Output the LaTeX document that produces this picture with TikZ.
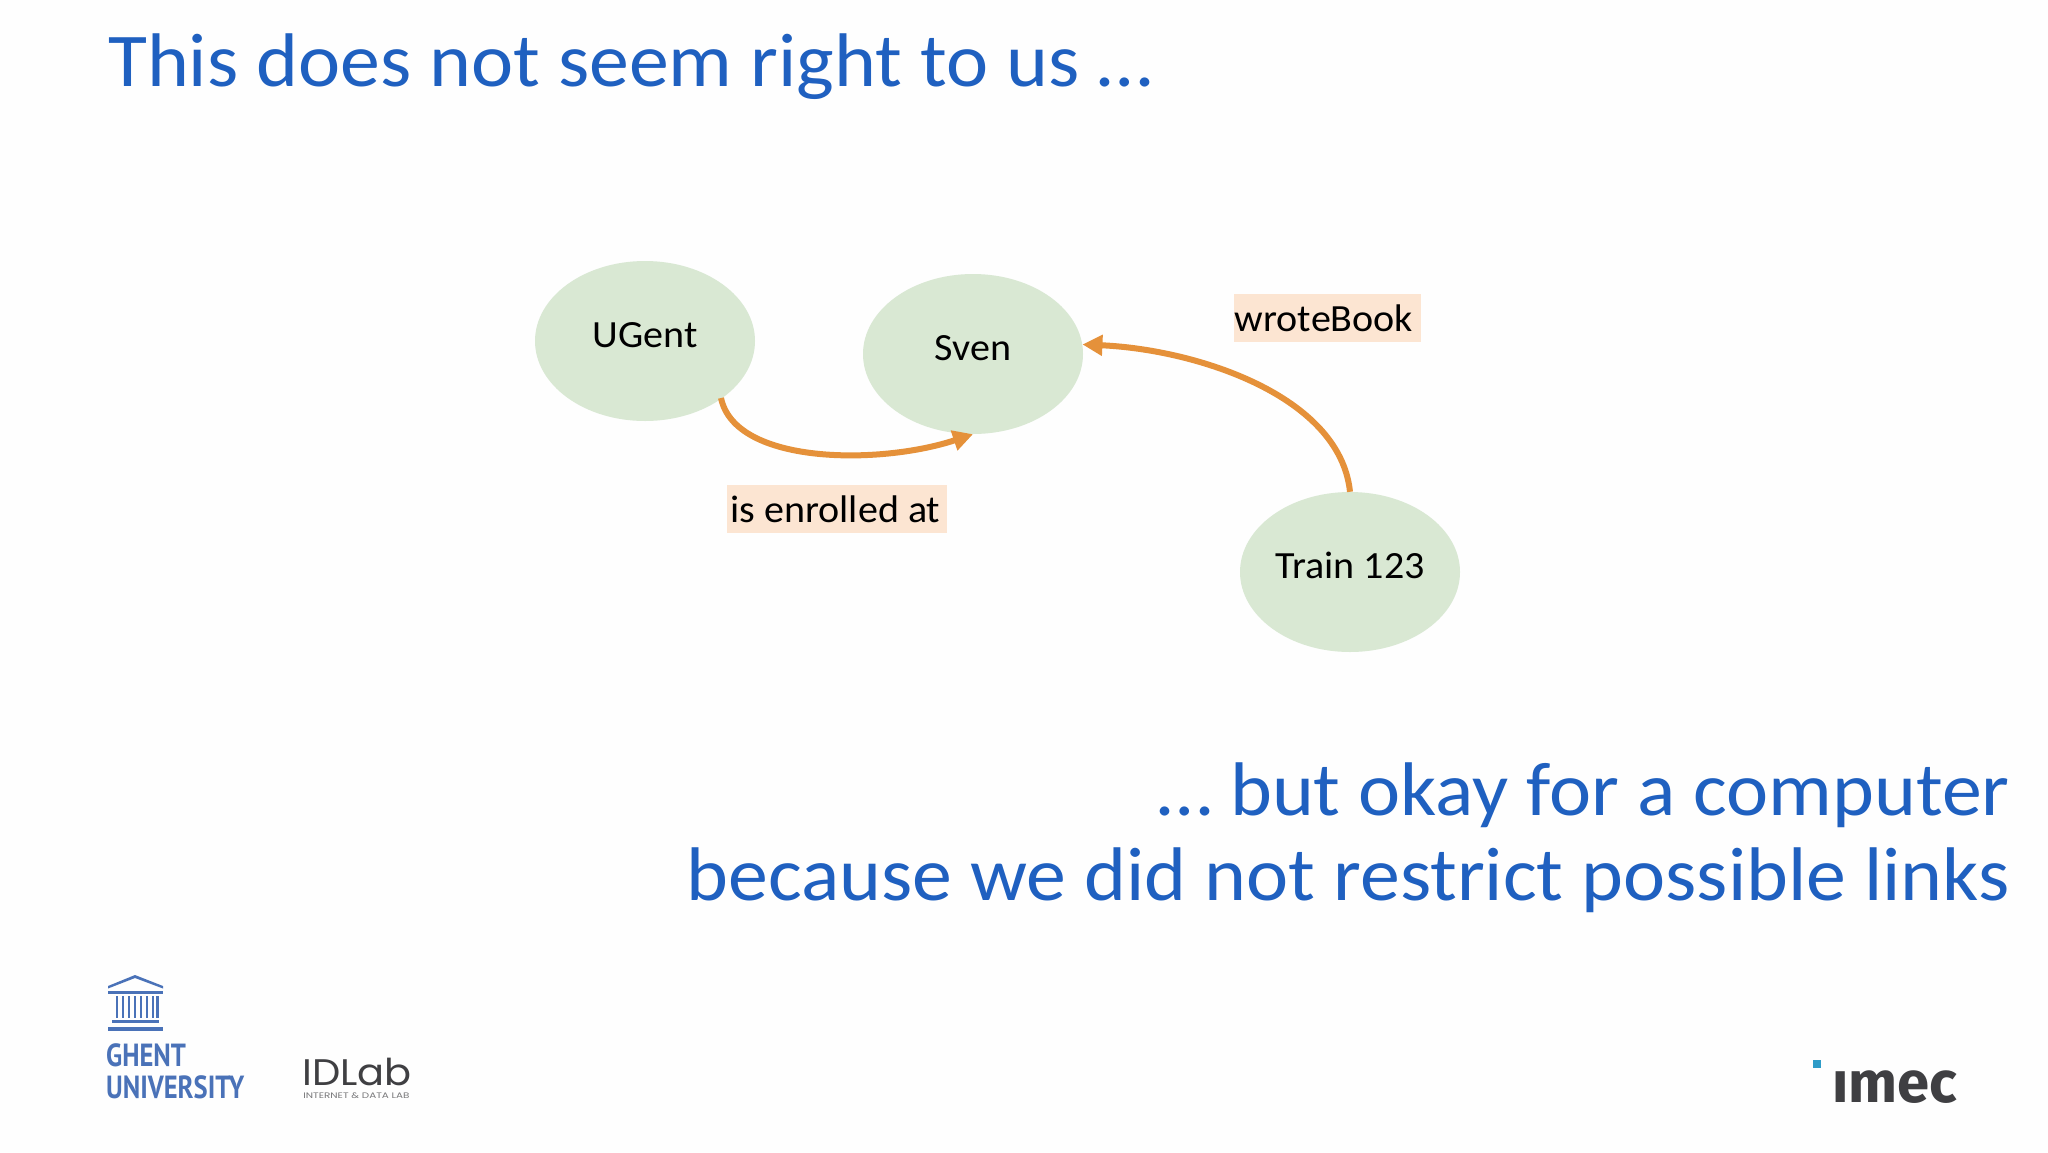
\documentclass[tikz,border=0pt]{standalone}
\usepackage{fontspec}
\setmainfont{Carlito}
\newfontfamily\ptsans{PT Sans}
\newfontfamily\popfont{Poppins}
\newfontfamily\firafont{Fira Sans}
\usetikzlibrary{arrows.meta,shapes.geometric}
\definecolor{titleblue}{HTML}{1F60C0}
\definecolor{nodegreen}{HTML}{D9E8D3}
\definecolor{labelpeach}{HTML}{FCE5D2}
\definecolor{linkorange}{HTML}{E5913A}
\definecolor{ugentblue}{HTML}{4A72B8}
\definecolor{logogrey}{HTML}{3F3F42}
\definecolor{imecblue}{HTML}{2E9CC8}
\newcommand{\fsz}[1]{\fontsize{#1}{#1}\selectfont}
\newcommand{\widetxt}[1]{\scalebox{1.04}[1]{#1}}
\tikzset{
  entity/.style={ellipse,fill=nodegreen,minimum width=220pt,minimum height=160pt,inner sep=0pt,font=\fsz{38.5}},
  linktag/.style={fill=labelpeach,inner sep=0pt,font=\fsz{38.5}},
  headline/.style={text=titleblue,inner sep=0pt,font=\fsz{76},xscale=1.05},
  link/.style={draw=linkorange,line width=6pt,-{Triangle[length=20pt,width=20pt]}},
  ugentmark/.style={fill=ugentblue},
  ugenttext/.style={anchor=base west,inner sep=0pt,text=ugentblue,font=\ptsans\bfseries\fsz{32},xscale=.83},
}
\begin{document}
\begin{tikzpicture}[x=1pt,y=-1pt]
\useasboundingbox (0,0) rectangle (2048,1152);
\fill[white!99.5!black] (0,0) rectangle (2048,1152);
\node[headline,anchor=base west] (title) at (108,86) {This does not seem right to us …};
\node[headline,anchor=base east] (line1) at (2010,815) {… but okay for a computer};
\node[headline,anchor=base east] (line2) at (2010,900) {because we did not restrict possible links};
\node[entity] (ugent) at (645,341) {\raisebox{12pt}{\widetxt{UGent}}};
\node[entity] (sven) at (973,354) {\raisebox{13pt}{\widetxt{Sven}}};
\node[entity] (train) at (1350,572) {\raisebox{14pt}{\widetxt{Train 123}}};
\node[linktag,minimum width=220pt,minimum height=48pt] (enrolled) at (837,509) {\hspace{-3pt}\widetxt{is enrolled at}};
\node[linktag,minimum width=187pt,minimum height=48pt] (wrote) at (1327,318) {\hspace{-6pt}\widetxt{wroteBook}};
\coordinate (ustart) at (721,398);
\draw[link] (ustart) .. controls (735,465) and (880,465) .. (sven.south);
\draw[link] (train.north) .. controls +(-10,-96) and +(114,5) .. (sven.5);
% Ghent University logo
\fill[ugentmark] (108,986) -- (135,975) -- (163,986) -- (163,988.5) -- (135,978) -- (108,988.5) -- cycle;
\fill[ugentmark] (108,990.5) rectangle (163,993.5);
\foreach \cx in {115.5,121.5,127.5,133.5,139.5,145.5,151.5,156}{\fill[ugentmark] (\cx,996) rectangle +(2.8,22);}
\fill[ugentmark] (112,1020) rectangle (159,1023);
\fill[ugentmark] (108,1027) rectangle (163,1031);
\node[ugenttext] (ghent) at (106,1066) {GHENT};
\node[ugenttext] (univ) at (106,1098) {UNIVERSITY};
% IDLab logo
\node[anchor=base west,inner sep=0pt,text=logogrey,font=\popfont\fsz{37},xscale=1.08] (idlab) at (302,1085) {IDLab};
\node[anchor=base west,inner sep=0pt,text=logogrey!70,font=\popfont\fsz{8},xscale=1.3] (idsub) at (303,1098) {INTERNET \& DATA LAB};
% imec logo
\fill[imecblue] (1813,1060) rectangle (1821,1068);
\node[anchor=base west,inner sep=0pt,text=logogrey,font=\firafont\bfseries\fsz{58}] (imec) at (1832,1102) {ımec};
\end{tikzpicture}
\end{document}
